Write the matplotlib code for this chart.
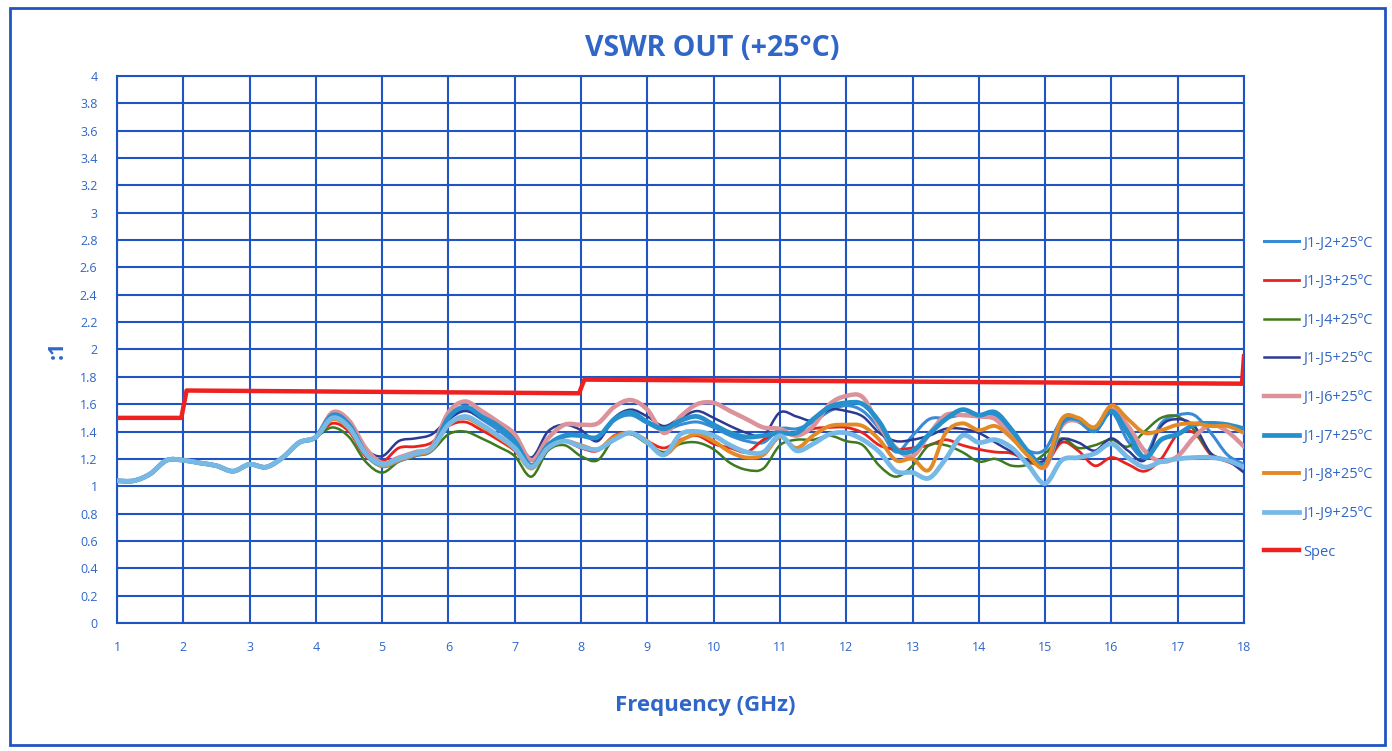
import numpy as np
import matplotlib
matplotlib.use("Agg")
import matplotlib.pyplot as plt
from matplotlib.path import Path
from matplotlib.patches import PathPatch, Rectangle
from matplotlib.lines import Line2D

plt.rcParams['font.family'] = ['Open Sans', 'DejaVu Sans']

# frequency grid (GHz), readings every 0.25 GHz
freq = [1.0 + 0.25 * i for i in range(69)]

# 1 - 4 GHz: all ports sit on top of each other
common = [1.04, 1.04, 1.09, 1.19, 1.19, 1.17, 1.15, 1.11, 1.16, 1.14, 1.21, 1.32, 1.36]

j2 = common + [1.50, 1.44, 1.25, 1.16, 1.20, 1.24, 1.28, 1.48, 1.56, 1.49, 1.41, 1.31,
               1.15, 1.29, 1.36, 1.37, 1.35, 1.48, 1.52, 1.46, 1.41, 1.45, 1.47, 1.43,
               1.37, 1.33, 1.32, 1.42, 1.42, 1.47, 1.55, 1.59, 1.55, 1.42, 1.25, 1.37,
               1.49, 1.50, 1.52, 1.51, 1.52, 1.39, 1.26, 1.27, 1.48, 1.47, 1.40, 1.54,
               1.33, 1.22, 1.46, 1.52, 1.52, 1.39, 1.23, 1.16]
j3 = common + [1.46, 1.40, 1.22, 1.18, 1.28, 1.29, 1.32, 1.44, 1.47, 1.41, 1.34, 1.26,
               1.14, 1.31, 1.33, 1.28, 1.26, 1.37, 1.39, 1.33, 1.28, 1.34, 1.37, 1.31,
               1.28, 1.25, 1.34, 1.40, 1.37, 1.42, 1.43, 1.43, 1.39, 1.30, 1.27, 1.28,
               1.30, 1.34, 1.30, 1.27, 1.25, 1.24, 1.18, 1.16, 1.32, 1.26, 1.15, 1.21,
               1.16, 1.11, 1.20, 1.38, 1.39, 1.23, 1.18, 1.13]
j4 = common + [1.43, 1.36, 1.18, 1.10, 1.18, 1.22, 1.26, 1.38, 1.40, 1.35, 1.29, 1.22,
               1.07, 1.26, 1.30, 1.22, 1.19, 1.35, 1.38, 1.31, 1.25, 1.31, 1.32, 1.27,
               1.17, 1.12, 1.13, 1.30, 1.34, 1.34, 1.37, 1.33, 1.30, 1.15, 1.07, 1.15,
               1.30, 1.30, 1.25, 1.18, 1.20, 1.15, 1.16, 1.24, 1.35, 1.28, 1.30, 1.34,
               1.29, 1.40, 1.50, 1.51, 1.41, 1.24, 1.19, 1.14]
j5 = common + [1.50, 1.42, 1.27, 1.22, 1.33, 1.35, 1.38, 1.49, 1.55, 1.50, 1.44, 1.36,
               1.21, 1.40, 1.45, 1.41, 1.33, 1.50, 1.56, 1.51, 1.44, 1.50, 1.55, 1.50,
               1.44, 1.39, 1.37, 1.54, 1.51, 1.48, 1.56, 1.55, 1.51, 1.39, 1.33, 1.34,
               1.37, 1.42, 1.42, 1.39, 1.32, 1.25, 1.19, 1.19, 1.34, 1.32, 1.26, 1.35,
               1.26, 1.19, 1.44, 1.49, 1.44, 1.24, 1.19, 1.10]
j6 = common + [1.54, 1.48, 1.28, 1.17, 1.21, 1.25, 1.29, 1.54, 1.62, 1.55, 1.47, 1.38,
               1.19, 1.35, 1.45, 1.45, 1.46, 1.58, 1.63, 1.56, 1.39, 1.51, 1.60, 1.61,
               1.55, 1.49, 1.43, 1.42, 1.37, 1.44, 1.60, 1.66, 1.65, 1.44, 1.28, 1.22,
               1.38, 1.52, 1.52, 1.51, 1.49, 1.36, 1.24, 1.14, 1.44, 1.48, 1.43, 1.56,
               1.44, 1.26, 1.18, 1.22, 1.36, 1.45, 1.40, 1.29]
j7 = common + [1.52, 1.45, 1.24, 1.15, 1.19, 1.23, 1.27, 1.50, 1.58, 1.51, 1.44, 1.33,
               1.15, 1.30, 1.37, 1.37, 1.36, 1.49, 1.54, 1.47, 1.42, 1.48, 1.51, 1.45,
               1.39, 1.36, 1.37, 1.39, 1.39, 1.49, 1.58, 1.61, 1.60, 1.47, 1.27, 1.26,
               1.38, 1.49, 1.56, 1.52, 1.54, 1.41, 1.25, 1.16, 1.46, 1.49, 1.41, 1.55,
               1.39, 1.21, 1.34, 1.38, 1.45, 1.46, 1.45, 1.42]
j8 = common + [1.49, 1.42, 1.24, 1.15, 1.19, 1.23, 1.27, 1.45, 1.50, 1.44, 1.36, 1.27,
               1.13, 1.28, 1.33, 1.30, 1.27, 1.36, 1.39, 1.33, 1.23, 1.33, 1.38, 1.33,
               1.25, 1.21, 1.23, 1.36, 1.28, 1.37, 1.44, 1.45, 1.44, 1.34, 1.19, 1.20,
               1.12, 1.39, 1.46, 1.41, 1.44, 1.35, 1.22, 1.15, 1.49, 1.50, 1.43, 1.59,
               1.49, 1.39, 1.41, 1.45, 1.46, 1.44, 1.44, 1.39]
j9 = common + [1.50, 1.43, 1.24, 1.16, 1.20, 1.24, 1.28, 1.45, 1.51, 1.45, 1.37, 1.28,
               1.14, 1.28, 1.33, 1.29, 1.27, 1.34, 1.39, 1.32, 1.23, 1.38, 1.40, 1.37,
               1.30, 1.25, 1.25, 1.37, 1.26, 1.31, 1.38, 1.39, 1.34, 1.25, 1.11, 1.10,
               1.06, 1.20, 1.37, 1.32, 1.34, 1.28, 1.15, 1.02, 1.19, 1.21, 1.24, 1.31,
               1.21, 1.14, 1.18, 1.20, 1.21, 1.21, 1.19, 1.14]

spec_x = [1, 1.97, 2.05, 7.97, 8.05, 17.97, 18]
spec_y = [1.5, 1.5, 1.7, 1.68, 1.78, 1.75, 1.95]

labels = ['J1-J2+25ºC', 'J1-J3+25ºC', 'J1-J4+25ºC', 'J1-J5+25ºC',
          'J1-J6+25ºC', 'J1-J7+25ºC', 'J1-J8+25ºC', 'J1-J9+25ºC']
series = [j2, j3, j4, j5, j6, j7, j8, j9]
colors = ['#3A8AD6', '#E8231F', '#3F7A1F', '#2E3A92', '#DB929B', '#2590CB', '#E38A26', '#76B8E6']
widths = [2.2, 2.0, 1.8, 1.8, 3.2, 3.4, 2.8, 3.4]

blue = '#1F55C3'
txt = '#2F66C8'


def smooth_path(x, y):
    # Excel style smoothed line: Catmull-Rom segments as cubic Bezier
    p = np.column_stack([x, y])
    verts = [p[0]]
    codes = [Path.MOVETO]
    n = len(p)
    for i in range(n - 1):
        p0 = p[i - 1] if i > 0 else p[i]
        p3 = p[i + 2] if i + 2 < n else p[i + 1]
        c1 = p[i] + (p[i + 1] - p0) / 6
        c2 = p[i + 1] - (p3 - p[i]) / 6
        verts += [c1, c2, p[i + 1]]
        codes += [Path.CURVE4] * 3
    return Path(verts, codes)


fig = plt.figure(figsize=(13.92, 7.51), dpi=100)
ax = fig.add_axes([117 / 1392, 1 - 623 / 751, (1244 - 117) / 1392, (623 - 76) / 751])

for vals, c, lw in zip(series, colors, widths):
    ax.add_patch(PathPatch(smooth_path(freq, vals), fill=False, edgecolor=c, lw=lw,
                           capstyle='round', joinstyle='round', zorder=3))
ax.plot(spec_x, spec_y, color='#EE2020', lw=3.2, zorder=4)

ax.set_xlim(1, 18)
ax.set_ylim(0, 4)
ax.set_xticks(range(1, 19))
ax.set_yticks(np.arange(0, 4.01, 0.2))
ax.set_yticklabels([f'{v:g}' for v in np.round(np.arange(0, 4.01, 0.2), 1)])
ax.grid(True, color=blue, lw=1.5)
ax.set_axisbelow(True)
for s in ax.spines.values():
    s.set_color(blue)
    s.set_linewidth(1.5)
ax.tick_params(length=0, colors=txt, labelsize=9)
ax.tick_params(axis='x', pad=13)
ax.tick_params(axis='y', pad=14)

fig.text(712 / 1392, 1 - 48 / 751, 'VSWR OUT (+25°C)', ha='center', va='center',
         fontsize=20.5, fontweight='bold', color=txt)
fig.text(705 / 1392, 1 - 705 / 751, 'Frequency (GHz)', ha='center', va='center',
         fontsize=16, fontweight='bold', color=txt)
fig.text(57 / 1392, 1 - 350 / 751, ':1', ha='center', va='center', rotation=90,
         fontsize=15, fontweight='bold', color=txt)

handles = [Line2D([], [], color=c, lw=lw) for c, lw in zip(colors, widths)]
handles.append(Line2D([], [], color='#EE2020', lw=3.2))
leg = fig.legend(handles, labels + ['Spec'], loc='center left',
                 bbox_to_anchor=(1251 / 1392, 1 - 397.5 / 751), frameon=False,
                 fontsize=10.5, labelcolor=txt, handlelength=2.4, handletextpad=0.25,
                 labelspacing=1.62, borderpad=0.4)

fig.patches.append(Rectangle((10 / 1392, 1 - 745 / 751), 1375 / 1392, 737 / 751,
                             transform=fig.transFigure, fill=False, edgecolor=blue, lw=2))

fig.savefig('out.png', dpi=100)
